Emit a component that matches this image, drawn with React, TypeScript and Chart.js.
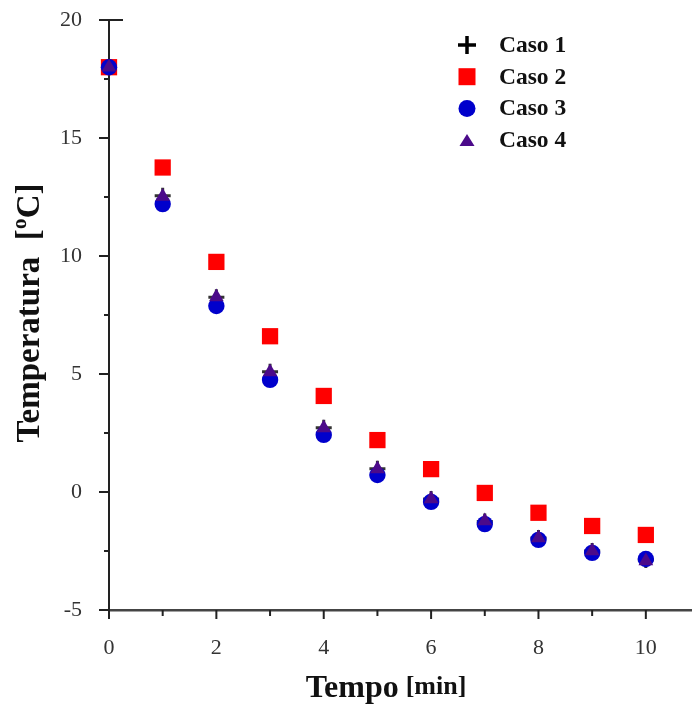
import React, { useEffect, useRef } from "react";
import { Chart, registerables } from "chart.js";

Chart.register(...registerables);

const tempo = [0, 1, 2, 3, 4, 5, 6, 7, 8, 9, 10];
const caso1 = [18, 12.55, 8.25, 5.1, 2.72, 0.98, -0.3, -1.25, -1.95, -2.5, -2.88];
const caso2 = [18, 13.75, 9.75, 6.6, 4.07, 2.2, 0.97, -0.04, -0.88, -1.44, -1.82];
const caso3 = [18, 12.2, 7.88, 4.75, 2.42, 0.72, -0.42, -1.36, -2.03, -2.58, -2.84];
const caso4 = [18, 12.52, 8.26, 5.08, 2.71, 0.97, -0.3, -1.23, -1.95, -2.5, -2.92];
const legendLabels = ["Caso 1", "Caso 2", "Caso 3", "Caso 4"];
const xTitleMain = "Tempo";
const xTitleUnit = "[min]";
const yTitle = "Temperatura  [ºC]";

const RED = "#ff0000";
const BLUE = "#0000cc";
const PURPLE = "#4b0a8a";
const BLACK = "#000000";
const SERIF = "'Liberation Serif', 'Times New Roman', serif";

function pts(ys: number[]) {
  return tempo.map((x, i) => ({ x, y: ys[i] }));
}

function drawSymbol(ctx: CanvasRenderingContext2D, kind: string, x: number, y: number) {
  ctx.save();
  if (kind === "cross") {
    ctx.strokeStyle = BLACK;
    ctx.lineWidth = 3.5;
    ctx.beginPath();
    ctx.moveTo(x - 9, y);
    ctx.lineTo(x + 9, y);
    ctx.moveTo(x, y - 9);
    ctx.lineTo(x, y + 9);
    ctx.stroke();
  } else if (kind === "rect") {
    ctx.fillStyle = RED;
    ctx.fillRect(x - 8.5, y - 8.5, 17, 17);
  } else if (kind === "circle") {
    ctx.fillStyle = BLUE;
    ctx.beginPath();
    ctx.arc(x, y, 8.5, 0, Math.PI * 2);
    ctx.fill();
  } else {
    ctx.fillStyle = PURPLE;
    ctx.beginPath();
    ctx.moveTo(x, y - 6);
    ctx.lineTo(x + 7.5, y + 6);
    ctx.lineTo(x - 7.5, y + 6);
    ctx.closePath();
    ctx.fill();
  }
  ctx.restore();
}

const decorPlugin = {
  id: "decor",
  afterDraw(chart: any) {
    const ctx: CanvasRenderingContext2D = chart.ctx;
    const xs = chart.scales.x;
    const ys = chart.scales.y;
    const area = chart.chartArea;
    ctx.save();
    ctx.strokeStyle = "#222";
    ctx.lineWidth = 2;
    for (let v = 0; v <= 10; v++) {
      const px = xs.getPixelForValue(v);
      const len = v % 2 === 0 ? 9 : 6;
      ctx.beginPath();
      ctx.moveTo(px, area.bottom);
      ctx.lineTo(px, area.bottom + len);
      ctx.stroke();
    }
    for (let v = -5; v <= 20; v += 2.5) {
      const py = ys.getPixelForValue(v);
      const len = v % 5 === 0 ? 10 : 5;
      ctx.beginPath();
      ctx.moveTo(area.left, py);
      ctx.lineTo(area.left - len, py);
      ctx.stroke();
    }
    const pTop = ys.getPixelForValue(20);
    ctx.beginPath();
    ctx.moveTo(area.left, pTop);
    ctx.lineTo(area.left + 14, pTop);
    ctx.stroke();
    const kinds = ["cross", "rect", "circle", "triangle"];
    ctx.font = `bold 23.5px ${SERIF}`;
    ctx.textBaseline = "middle";
    ctx.textAlign = "left";
    legendLabels.forEach((lab, i) => {
      const y = 45 + i * 31.7;
      drawSymbol(ctx, kinds[i], 467, y);
      ctx.fillStyle = "#111";
      ctx.fillText(lab, 499, y + 1);
    });
    ctx.fillStyle = "#111";
    ctx.textBaseline = "alphabetic";
    ctx.font = `bold 32px ${SERIF}`;
    const w1 = ctx.measureText(xTitleMain).width;
    ctx.font = `bold 26px ${SERIF}`;
    const w2 = ctx.measureText(xTitleUnit).width;
    const gap = 7;
    const total = w1 + gap + w2;
    const startX = 386 - total / 2;
    ctx.font = `bold 32px ${SERIF}`;
    ctx.fillText(xTitleMain, startX, 697);
    ctx.font = `bold 26px ${SERIF}`;
    ctx.fillText(xTitleUnit, startX + w1 + gap, 694);
    ctx.translate(30, 313);
    ctx.rotate(-Math.PI / 2);
    ctx.textAlign = "center";
    ctx.textBaseline = "middle";
    ctx.font = `bold 33px ${SERIF}`;
    ctx.fillText(yTitle, 0, 0);
    ctx.restore();
  },
};

export default function App() {
  const ref = useRef<HTMLCanvasElement>(null);
  useEffect(() => {
    document.body.style.margin = "0";
    const canvas = ref.current!;
    const chart = new Chart(canvas, {
      type: "scatter",
      data: {
        datasets: [
          {
            label: legendLabels[0],
            data: pts(caso1),
            pointStyle: "cross",
            pointRadius: 8,
            borderColor: "#333",
            backgroundColor: "#333",
            pointBorderWidth: 3,
            order: 2,
            clip: false,
          },
          {
            label: legendLabels[1],
            data: pts(caso2),
            pointStyle: "rect",
            pointRadius: 11.5,
            borderColor: RED,
            backgroundColor: RED,
            pointBorderWidth: 0,
            order: 3,
            clip: false,
          },
          {
            label: legendLabels[2],
            data: pts(caso3),
            pointStyle: "circle",
            pointRadius: 8.2,
            borderColor: BLUE,
            backgroundColor: BLUE,
            pointBorderWidth: 0,
            order: 1,
            clip: false,
          },
          {
            label: legendLabels[3],
            data: pts(caso4),
            pointStyle: "triangle",
            pointRadius: 8.5,
            borderColor: PURPLE,
            backgroundColor: PURPLE,
            pointBorderWidth: 0,
            order: 0,
            clip: false,
          },
        ],
      },
      options: {
        animation: false,
        responsive: true,
        maintainAspectRatio: false,
        layout: { autoPadding: false, padding: { top: 20, right: 0, left: 0, bottom: 0 } },
        plugins: { legend: { display: false }, tooltip: { enabled: false } },
        scales: {
          x: {
            type: "linear",
            min: 0,
            max: 10.86,
            grid: { display: false, drawTicks: false },
            border: { display: true, color: "#444", width: 2.5 },
            ticks: {
              stepSize: 1,
              includeBounds: false,
              autoSkip: false,
              maxRotation: 0,
              padding: 25,
              color: "#333",
              font: { family: SERIF, size: 22 },
              callback: (v: any) => (Number(v) % 2 === 0 ? String(v) : ""),
            },
            afterFit: (s: any) => {
              s.height = 96;
              s.paddingLeft = 0;
              s.paddingRight = 0;
            },
          },
          y: {
            type: "linear",
            min: -5,
            max: 20,
            grid: { display: false, drawTicks: false },
            border: { display: true, color: "#222", width: 2 },
            ticks: {
              stepSize: 2.5,
              includeBounds: false,
              autoSkip: false,
              padding: 27,
              color: "#333",
              font: { family: SERIF, size: 22 },
              callback: (v: any) => (Number(v) % 5 === 0 ? String(v) : ""),
            },
            afterFit: (s: any) => {
              s.width = 109;
              s.paddingTop = 0;
              s.paddingBottom = 0;
            },
          },
        },
      },
      plugins: [decorPlugin],
    } as any);
    return () => chart.destroy();
  }, []);
  return (
    <div style={{ width: 692, height: 706, position: "relative" }}>
      <canvas ref={ref} />
    </div>
  );
}
